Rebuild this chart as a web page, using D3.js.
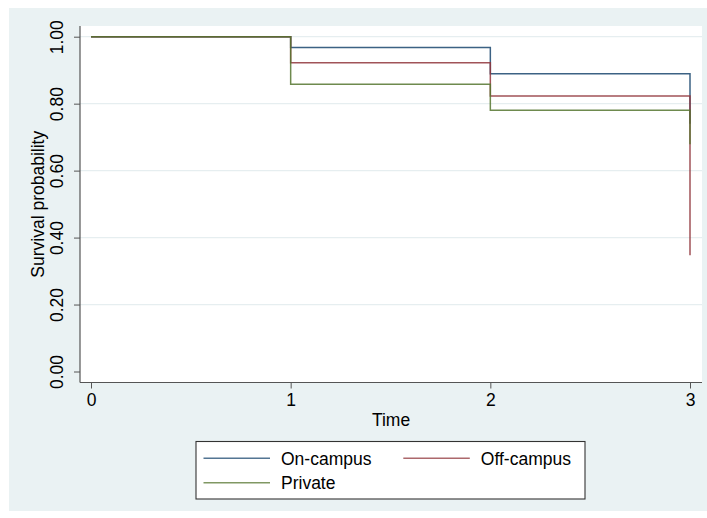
<!DOCTYPE html>
<html><head><meta charset="utf-8">
<script src="https://cdn.jsdelivr.net/npm/d3@7"></script>
<style>
html,body{margin:0;padding:0;background:#fff;}
svg text{font-family:"Liberation Sans",Arial,Helvetica,sans-serif;fill:#000;}
</style></head>
<body>
<svg id="chart" width="707" height="518"></svg>
<script>
const times = [0, 1, 2, 3];
const onCampus = [1.0, 0.968, 0.889, 0.74];
const offCampus = [1.0, 0.922, 0.823, 0.347];
const privateHousing = [1.0, 0.858, 0.780, 0.679];
const seriesNames = ["On-campus", "Off-campus", "Private"];
const yTicks = [0, 0.2, 0.4, 0.6, 0.8, 1.0];
const xTicks = [0, 1, 2, 3];

const colors = ["#1a476f", "#90353b", "#55752f"];
const svg = d3.select("#chart");
const FS = 17.5;

// outer graph region
svg.append("rect").attr("x", 9).attr("y", 8).attr("width", 698).attr("height", 503).attr("fill", "#eaf2f3");
// plot region
const plot = {x0: 80, x1: 702, y0: 26, y1: 382.5};
svg.append("rect").attr("x", plot.x0).attr("y", plot.y0).attr("width", plot.x1 - plot.x0).attr("height", plot.y1 - plot.y0).attr("fill", "#fff");

const x = d3.scaleLinear().domain([0, 3]).range([91, 690]);
const y = d3.scaleLinear().domain([0, 1]).range([371.5, 36.7]);

// gridlines
svg.append("g").selectAll("line").data(yTicks.filter(d => d > 0)).join("line")
  .attr("x1", plot.x0).attr("x2", plot.x1)
  .attr("y1", d => y(d)).attr("y2", d => y(d))
  .attr("stroke", "#e6eef0").attr("stroke-width", 1.3);

// series
const data = [onCampus, offCampus, privateHousing];
const line = d3.line().x(d => x(d[0])).y(d => y(d[1])).curve(d3.curveStepAfter);
data.forEach((vals, i) => {
  svg.append("path")
    .datum(times.map((t, j) => [t, vals[j]]))
    .attr("d", line)
    .attr("fill", "none")
    .attr("stroke", colors[i])
    .attr("stroke-width", 1.5)
    .attr("stroke-opacity", 0.85);
});

// y axis
const yAxis = d3.axisLeft(y).tickValues(yTicks).tickFormat(d3.format(".2f")).tickSize(6).tickSizeOuter(0);
const gy = svg.append("g").attr("transform", `translate(${plot.x0},0)`).call(yAxis);
gy.select(".domain").remove();
gy.selectAll(".tick line").attr("stroke", "#555");
gy.selectAll(".tick text").attr("font-size", FS)
  .attr("text-anchor", "middle").attr("x", 0).attr("y", 0).attr("dy", null)
  .attr("transform", "translate(-17,0) rotate(-90)");
svg.append("line").attr("x1", plot.x0).attr("x2", plot.x0).attr("y1", plot.y0).attr("y2", plot.y1)
  .attr("stroke", "#555").attr("stroke-width", 1.2);

// x axis
const xAxis = d3.axisBottom(x).tickValues(xTicks).tickFormat(d3.format("d")).tickSize(6).tickSizeOuter(0);
const gx = svg.append("g").attr("transform", `translate(0,${plot.y1})`).call(xAxis);
gx.select(".domain").remove();
gx.selectAll(".tick line").attr("stroke", "#555");
gx.selectAll(".tick text").attr("font-size", FS).attr("y", 23).attr("dy", null);
svg.append("line").attr("x1", plot.x0).attr("x2", plot.x1).attr("y1", plot.y1).attr("y2", plot.y1)
  .attr("stroke", "#555").attr("stroke-width", 1.2);

// axis titles
svg.append("text").attr("x", (plot.x0 + plot.x1) / 2).attr("y", 426).attr("text-anchor", "middle")
  .attr("font-size", FS).text("Time");
svg.append("text").attr("transform", `translate(43.5,${(plot.y0 + plot.y1) / 2}) rotate(-90)`)
  .attr("text-anchor", "middle").attr("font-size", FS).text("Survival probability");

// legend
const lg = svg.append("g");
lg.append("rect").attr("x", 196).attr("y", 441.5).attr("width", 389).attr("height", 57.5)
  .attr("fill", "#fff").attr("stroke", "#333").attr("stroke-width", 1.1);
const legendPos = [[203.5, 458.3], [403.3, 458.3], [203.5, 482.7]];
seriesNames.forEach((name, i) => {
  const [lx, ly] = legendPos[i];
  lg.append("line").attr("x1", lx).attr("x2", lx + 66.5).attr("y1", ly).attr("y2", ly)
    .attr("stroke", colors[i]).attr("stroke-width", 1.5).attr("stroke-opacity", 0.75);
  lg.append("text").attr("x", lx + 77.5).attr("y", ly + 6.3).attr("font-size", FS).text(name);
});
</script>
</body></html>
